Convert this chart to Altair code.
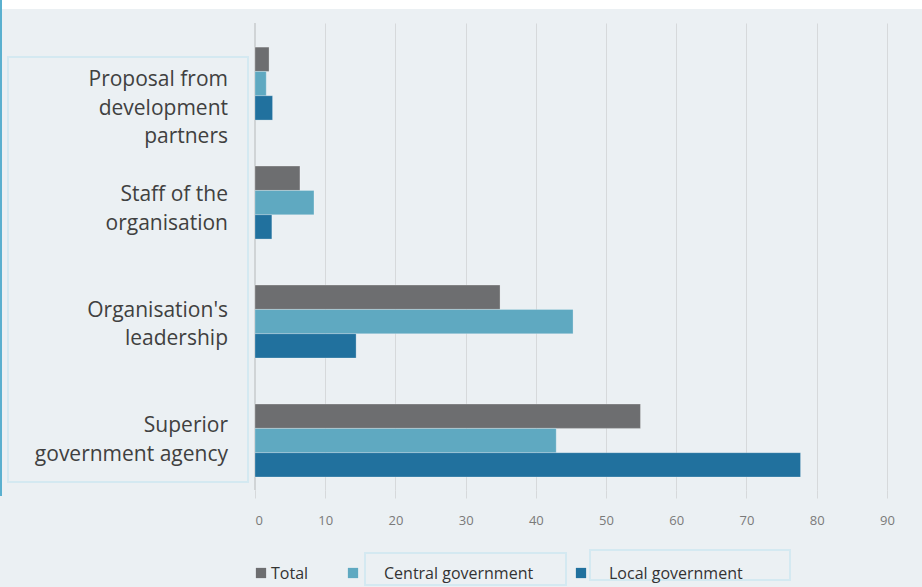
import altair as alt
import pandas as pd

categories = [
    "Proposal from\ndevelopment\npartners",
    "Staff of the\norganisation",
    "Organisation's\nleadership",
    "Superior\ngovernment agency",
]
series = ["Total", "Central government", "Local government"]
total = [2.0, 6.4, 34.9, 54.9]
central = [1.6, 8.4, 45.3, 42.9]
local = [2.5, 2.4, 14.4, 77.7]
ticks = [0, 10, 20, 30, 40, 50, 60, 70, 80, 90]
colors = ["#6d6e70", "#5fa9c1", "#21719e"]

rows = []
for i, c in enumerate(categories):
    for s, vals in zip(series, [total, central, local]):
        rows.append({"category": c, "series": s, "value": vals[i]})
df = pd.DataFrame(rows)
cat_df = pd.DataFrame({"category": categories})
ser_df = pd.DataFrame({"series": series})

W, H = 667, 467

yscale = alt.Scale(domain=categories, paddingInner=0.387, paddingOuter=0.156, align=0.65)
# first text line position of each category label
label_scale = alt.Scale(type="point", domain=categories, range=[57, 403], padding=0)
color_scale = alt.Scale(domain=series, range=colors)
# legend layout (piecewise scale over the series index)
legend_sym_scale = alt.Scale(type="linear", domain=[0, 1, 2], range=[6, 98, 326], nice=False, zero=False)
legend_txt_scale = alt.Scale(type="linear", domain=[0, 1, 2], range=[16, 129, 354], nice=False, zero=False)
series_index = "indexof(" + str(series) + ", datum.series)"

bars = alt.Chart(df).mark_bar(stroke="#ffffff", strokeOpacity=0.25, strokeWidth=1).encode(
    x=alt.X("value:Q", scale=alt.Scale(domain=[0, 95], nice=False),
            axis=alt.Axis(values=ticks, title=None, grid=True, gridColor="#d6d9db",
                          tickColor="#d6d9db", tickSize=8, domain=False,
                          labelColor="#7a7a7a", labelFont="Open Sans", labelFontSize=13,
                          labelPadding=16)),
    y=alt.Y("category:N", scale=yscale, axis=None),
    yOffset=alt.YOffset("series:N", sort=series, scale=alt.Scale(domain=series, paddingInner=0, paddingOuter=0)),
    color=alt.Color("series:N", scale=color_scale, legend=None),
)

labels = alt.Chart(cat_df).mark_text(
    align="right", baseline="middle", lineBreak="\n", font="Open Sans",
    fontSize=21, lineHeight=28.5, color="#404040"
).encode(
    y=alt.Y("category:N", scale=label_scale, axis=None),
    x=alt.value(-27),
    text="category:N",
)

legend_sym = alt.Chart(ser_df).transform_calculate(idx=series_index).mark_square(size=105, opacity=1).encode(
    x=alt.X("idx:Q", scale=legend_sym_scale, axis=None),
    y=alt.value(550),
    color=alt.Color("series:N", scale=color_scale, legend=None),
)
legend_txt = alt.Chart(ser_df).transform_calculate(idx=series_index).mark_text(
    align="left", baseline="middle", font="Open Sans", fontSize=16, color="#333333"
).encode(
    x=alt.X("idx:Q", scale=legend_txt_scale, axis=None),
    y=alt.value(551),
    text="series:N",
)

zero_line = alt.Chart(cat_df).mark_rule(color="#cfd3d5").encode(
    x=alt.value(0), y=alt.value(0), y2=alt.value(H)
)

label_box = alt.Chart(cat_df).mark_rect(fill=None, stroke="#d4e9f1", strokeWidth=1.5).encode(
    x=alt.value(-247), x2=alt.value(-7), y=alt.value(34), y2=alt.value(459)
)
white_strip = alt.Chart(cat_df).mark_rect(fill="#ffffff").encode(
    x=alt.value(-253), x2=alt.value(W), y=alt.value(-23), y2=alt.value(-14)
)
blue_bar = alt.Chart(cat_df).mark_rect(fill="#5ab0cf").encode(
    x=alt.value(-255), x2=alt.value(-253), y=alt.value(-23), y2=alt.value(473)
)
leg_box1 = alt.Chart(cat_df).mark_rect(fill=None, stroke="#d4e9f1", strokeWidth=1.5).encode(
    x=alt.value(110), x2=alt.value(311), y=alt.value(530), y2=alt.value(562)
)
leg_box2 = alt.Chart(cat_df).mark_rect(fill=None, stroke="#d4e9f1", strokeWidth=1.5).encode(
    x=alt.value(335), x2=alt.value(535), y=alt.value(527), y2=alt.value(557)
)

chart = alt.layer(
    white_strip, blue_bar, label_box, leg_box1, leg_box2, zero_line, bars, labels, legend_sym, legend_txt
).resolve_scale(
    y="independent", x="independent"
).properties(
    width=W, height=H,
    autosize=alt.AutoSizeParams(type="none"),
    padding={"left": 255, "top": 23, "right": 0, "bottom": 97},
    background="#ebf0f3",
).configure_view(stroke=None)

chart.save("out.html", embed_options={"renderer": "svg", "actions": False})
